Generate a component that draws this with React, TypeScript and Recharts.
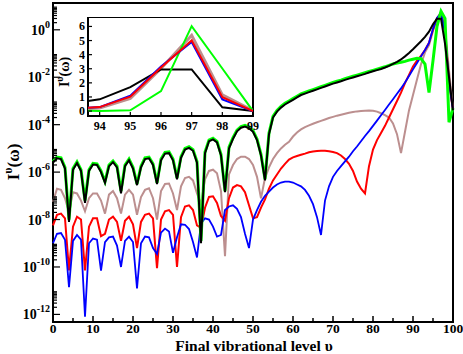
import { LineChart, Line, XAxis, YAxis, ReferenceArea } from "recharts";

// log10 of I^v(omega) for final vibrational level v = 0..100
const blackLog = [
  -5.6, -5.42, -5.45, -5.85, -8.1, -5.9, -5.62, -5.95, -7.3, -5.95,
  -5.68, -5.7, -6.0, -6.45, -5.75, -5.58, -5.8, -6.9, -5.75, -5.5,
  -5.85, -6.55, -5.8, -5.45, -5.42, -5.7, -6.5, -5.5, -5.22, -5.2,
  -5.5, -6.3, -5.4, -5.05, -4.98, -5.1, -5.6, -9.0, -5.2, -4.7,
  -4.62, -4.75, -5.3, -6.85, -5.0, -4.6, -4.28, -4.13, -4.08, -4.15,
  -4.3, -4.65, -5.3, -6.35, -4.4, -3.7, -3.45, -3.28, -3.15, -3.05,
  -2.95, -2.85, -2.75, -2.69, -2.63, -2.57, -2.51, -2.45, -2.39, -2.33,
  -2.27, -2.22, -2.17, -2.11, -2.06, -2.01, -1.96, -1.91, -1.86, -1.8,
  -1.75, -1.7, -1.65, -1.59, -1.52, -1.44, -1.35, -1.25, -1.12, -0.98,
  -0.82, -0.65, -0.48, -0.3, -0.08, 0.23, 0.47, 0.47, -0.58, -2.0,
  -3.4,
];

const greenLog = [
  -5.55, -5.37, -5.4, -5.8, -8.0, -5.85, -5.57, -5.9, -7.2, -5.9,
  -5.63, -5.65, -5.95, -6.4, -5.7, -5.53, -5.75, -6.8, -5.7, -5.45,
  -5.8, -6.5, -5.75, -5.4, -5.37, -5.65, -6.45, -5.45, -5.17, -5.15,
  -5.45, -6.25, -5.35, -5.0, -4.93, -5.05, -5.55, -8.9, -5.15, -4.65,
  -4.57, -4.7, -5.25, -6.8, -4.95, -4.55, -4.23, -4.08, -4.03, -4.1,
  -4.25, -4.6, -5.25, -6.3, -4.35, -3.65, -3.4, -3.23, -3.1, -3.0,
  -2.9, -2.8, -2.7, -2.64, -2.58, -2.52, -2.46, -2.4, -2.34, -2.28,
  -2.22, -2.17, -2.12, -2.06, -2.01, -1.96, -1.91, -1.86, -1.81, -1.76,
  -1.71, -1.66, -1.61, -1.56, -1.5, -1.44, -1.4, -1.37, -1.33, -1.28,
  -1.24, -1.2, -1.22, -1.45, -2.65, -1.3, 0.15, 0.78, 0.48, -3.9,
  -3.3,
];

const brownLog = [
  -7.25, -6.7, -6.75, -7.1, -7.7, -6.85, -6.9, -7.2, -7.65, -7.1,
  -6.9, -6.9, -7.2, -7.75, -6.95, -6.8, -7.1, -7.75, -6.95, -6.75,
  -6.95, -7.8, -7.05, -6.75, -6.68, -7.1, -8.0, -6.8, -6.5, -6.48,
  -6.9, -7.6, -6.6, -6.25, -6.2, -6.35, -6.9, -7.35, -6.3, -5.95,
  -5.9, -6.05, -6.8, -9.55, -6.1, -5.7, -5.45, -5.35, -5.35, -5.45,
  -5.7, -6.2, -7.1, -6.25, -5.8, -5.45, -5.2, -5.0, -4.85, -4.72,
  -4.5, -4.33, -4.2, -4.1, -4.03, -3.96, -3.9, -3.84, -3.78, -3.72,
  -3.67, -3.62, -3.58, -3.54, -3.5, -3.47, -3.44, -3.42, -3.41, -3.4,
  -3.41, -3.45, -3.52, -3.6, -3.7, -3.95, -4.4, -5.2, -4.3, -3.4,
  -2.75, -2.1, -1.45, -0.95, -0.65, -0.05, 0.48, 0.73, 0.06, -1.7,
  -3.4,
];

const redLog = [
  -8.25, -7.8, -7.75, -7.95, -10.15, -8.3, -7.88, -8.0, -10.15, -8.3,
  -7.95, -7.95, -8.7, -8.6, -8.0, -7.88, -8.1, -8.9, -8.05, -7.88,
  -8.2, -9.2, -8.1, -7.8, -7.75, -7.95, -10.05, -8.0, -7.65, -7.6,
  -7.8, -10.0, -7.9, -7.45, -7.4, -7.6, -8.25, -8.35, -7.5, -7.05,
  -7.02, -7.3, -7.85, -8.05, -7.1, -6.65, -6.55, -6.6, -6.85, -7.4,
  -7.95, -7.9, -7.5, -7.15, -6.7, -6.35, -6.1, -5.85, -5.65, -5.47,
  -5.38, -5.32, -5.27, -5.22, -5.16, -5.13, -5.11, -5.1, -5.1, -5.12,
  -5.15, -5.2, -5.3, -5.45, -5.65, -5.95, -6.4, -6.7, -6.9, -5.75,
  -5.05, -4.65, -4.35, -4.05, -3.7, -3.35, -3.0, -2.65, -2.25, -1.9,
  -1.55, -1.3, -1.1, -0.85, -0.55, 0.01, 0.49, 0.7, -0.01, -2.2,
  -3.4,
];

const blueLog = [
  -9.0, -8.6, -8.57, -8.85, -10.85, -8.9, -8.65, -8.85, -12.1, -9.0,
  -8.8, -8.85, -10.15, -8.95, -8.75, -8.72, -9.1, -10.0, -8.9, -8.72,
  -8.95, -10.9, -9.0, -8.72, -8.75, -9.2, -9.45, -8.55, -8.38, -8.5,
  -9.4, -8.75, -8.2, -8.22, -8.4, -8.95, -9.6, -8.15, -7.95, -8.0,
  -8.3, -8.72, -8.65, -7.6, -7.45, -7.4, -7.55, -7.9, -8.6, -9.2,
  -8.0, -7.6, -7.25, -7.0, -6.82, -6.65, -6.52, -6.44, -6.4, -6.4,
  -6.44, -6.52, -6.6, -6.75, -7.0, -7.35, -7.9, -8.65, -7.2, -6.6,
  -6.2, -5.95, -5.75, -5.55, -5.35, -5.12, -4.92, -4.7, -4.48, -4.27,
  -4.05, -3.83, -3.6, -3.38, -3.15, -2.93, -2.7, -2.47, -2.22, -1.95,
  -1.67, -1.4, -1.12, -0.85, -0.55, 0.04, 0.5, 0.69, -0.08, -2.2,
  -3.4,
];

const xTicks = [0, 5, 10, 15, 20, 25, 30, 35, 40, 45, 50, 55, 60, 65, 70, 75, 80, 85, 90, 95, 100];
const yMajors = [-12, -10, -8, -6, -4, -2, 0];
const insetXTicks = [94, 95, 96, 97, 98, 99];
const insetYTicks = [0, 1, 2, 3, 4, 5, 6];

const SERIF = '"Liberation Serif", "Times New Roman", serif';
const Y_MIN = -12.32;
const Y_MAX = 1.13;

// labelled decades every two powers of ten, minor ticks 2..9 x major above each
const yTicks: number[] = [];
yMajors.forEach((d) => {
  yTicks.push(d);
  for (let k = 2; k <= 9; k++) yTicks.push(d + Math.log10(k));
});

const rows = blackLog.map((_, v) => ({
  v,
  black: blackLog[v],
  green: greenLog[v],
  brown: brownLog[v],
  red: redLog[v],
  blue: blueLog[v],
}));

// the inset shows the same intensities on a linear scale near the peak
const insetRows = rows
  .filter((r) => r.v >= 93 && r.v <= 99)
  .map((r) => ({
    v: r.v,
    black: 10 ** r.black,
    green: 10 ** r.green,
    brown: 10 ** r.brown,
    red: 10 ** r.red,
    blue: 10 ** r.blue,
  }));

const isInt = (n: number) => Math.abs(n - Math.round(n)) < 1e-6;

const BottomTick = ({ x, y, payload }: any) => {
  const major = payload.value % 10 === 0;
  return (
    <g>
      <line x1={x} x2={x} y1={y} y2={y - (major ? 6 : 4)} stroke="#000" strokeWidth={1.5} />
      {major && (
        <text x={x} y={y + 11} textAnchor="middle" fontFamily={SERIF} fontWeight="bold" fontSize={13.5} fill="#000">
          {payload.value}
        </text>
      )}
    </g>
  );
};

const TopTick = ({ x, y, payload }: any) => {
  const major = payload.value % 10 === 0;
  return <line x1={x} x2={x} y1={y} y2={y + (major ? 6 : 4)} stroke="#000" strokeWidth={1.5} />;
};

const LeftTick = ({ x, y, payload }: any) => {
  const v = payload.value;
  const major = isInt(v);
  return (
    <g>
      <line x1={x} x2={x + (major ? 7 : 4)} y1={y} y2={y} stroke="#000" strokeWidth={1.2} />
      {major && (
        <text x={x - 3} y={y + 5} textAnchor="end" fontFamily={SERIF} fontWeight="bold" fontSize={14} fill="#000">
          10
          <tspan dy={-7} fontSize={10}>
            {Math.round(v) === 0 ? "0" : Math.round(v)}
          </tspan>
        </text>
      )}
    </g>
  );
};

const RightTick = ({ x, y, payload }: any) => {
  const major = isInt(payload.value);
  return <line x1={x} x2={x - (major ? 7 : 4)} y1={y} y2={y} stroke="#000" strokeWidth={1.2} />;
};

const InsetBottomTick = ({ x, y, payload }: any) => (
  <g>
    <line x1={x} x2={x} y1={y} y2={y - 4} stroke="#000" strokeWidth={1.2} />
    <text x={x} y={y + 14} textAnchor="middle" fontFamily={SERIF} fontWeight="bold" fontSize={12} fill="#000">
      {payload.value}
    </text>
  </g>
);

const InsetLeftTick = ({ x, y, payload }: any) => (
  <g>
    <line x1={x} x2={x + 4} y1={y} y2={y} stroke="#000" strokeWidth={1.2} />
    <text x={x - 3} y={y + 4} textAnchor="end" fontFamily={SERIF} fontWeight="bold" fontSize={12} fill="#000">
      {payload.value}
    </text>
  </g>
);

export default function App() {
  return (
    <div style={{ position: "relative", width: 463, height: 354, background: "#fff" }}>
      <style>{"body{margin:0}"}</style>
      <LineChart width={463} height={354} data={rows} margin={{ top: 3, right: 10, bottom: 0, left: 0 }}>
        <XAxis xAxisId="b" dataKey="v" type="number" domain={[0, 100]} ticks={xTicks} interval={0}
          height={32} tickSize={0} tickMargin={0} axisLine={false} tick={BottomTick} />
        <XAxis xAxisId="t" orientation="top" dataKey="v" type="number" domain={[0, 100]} ticks={xTicks}
          interval={0} height={0} tickSize={0} tickMargin={0} axisLine={false} tick={TopTick} />
        <YAxis yAxisId="l" type="number" domain={[Y_MIN, Y_MAX]} ticks={yTicks} interval={0} allowDataOverflow
          width={53} tickSize={0} tickMargin={0} axisLine={false} tick={LeftTick} />
        <YAxis yAxisId="r" orientation="right" type="number" domain={[Y_MIN, Y_MAX]} ticks={yTicks} interval={0}
          allowDataOverflow width={0} tickSize={0} tickMargin={0} axisLine={false} tick={RightTick} />
        <ReferenceArea xAxisId="b" yAxisId="l" x1={0} x2={100} y1={Y_MIN} y2={Y_MAX}
          fill="none" stroke="#000" strokeWidth={2} />
        <Line xAxisId="b" yAxisId="l" dataKey="brown" stroke="#bc8f8f" strokeWidth={2} dot={false} isAnimationActive={false} />
        <Line xAxisId="b" yAxisId="l" dataKey="red" stroke="#ff0000" strokeWidth={2} dot={false} isAnimationActive={false} />
        <Line xAxisId="b" yAxisId="l" dataKey="blue" stroke="#0000ff" strokeWidth={1.8} dot={false} isAnimationActive={false} />
        <Line xAxisId="b" yAxisId="l" dataKey="green" stroke="#00ff00" strokeWidth={3} dot={false} isAnimationActive={false} />
        <Line xAxisId="b" yAxisId="l" dataKey="black" stroke="#000000" strokeWidth={2} dot={false} isAnimationActive={false} />
      </LineChart>

      {/* inset: linear scale around the peak */}
      <div style={{ position: "absolute", left: 88, top: 17, width: 165, height: 99, background: "#fff" }} />
      <div style={{ position: "absolute", left: 52, top: 17 }}>
        <LineChart width={210} height={119} data={insetRows} margin={{ top: 0, right: 9, bottom: 0, left: 0 }}>
          <XAxis dataKey="v" type="number" domain={[93.62, 99]} ticks={insetXTicks} interval={0} allowDataOverflow
            height={20} tickSize={0} tickMargin={0} axisLine={false} tick={InsetBottomTick} />
          <YAxis type="number" domain={[-0.35, 6.67]} ticks={insetYTicks} interval={0} allowDataOverflow
            width={36} tickSize={0} tickMargin={0} axisLine={false} tick={InsetLeftTick} />
          <ReferenceArea x1={93.62} x2={99} y1={-0.35} y2={6.67} fill="none" stroke="#000" strokeWidth={2} />
          <Line dataKey="brown" stroke="#bc8f8f" strokeWidth={3} dot={false} isAnimationActive={false} />
          <Line dataKey="black" stroke="#000000" strokeWidth={2} dot={false} isAnimationActive={false} />
          <Line dataKey="green" stroke="#00ff00" strokeWidth={2} dot={false} isAnimationActive={false} />
          <Line dataKey="blue" stroke="#0000ff" strokeWidth={2} dot={false} isAnimationActive={false} />
          <Line dataKey="red" stroke="#ff0000" strokeWidth={2} dot={false} isAnimationActive={false} />
        </LineChart>
      </div>

      <svg width={463} height={354} style={{ position: "absolute", left: 0, top: 0, pointerEvents: "none" }}>
        <text x={254} y={351} textAnchor="middle" fontFamily={SERIF} fontWeight="bold" fontSize={15.5} fill="#000">
          Final vibrational level  υ
        </text>
        <text transform="translate(19,162) rotate(-90)" textAnchor="middle" fontFamily={SERIF} fontWeight="bold" fontSize={17} fill="#000">
          I<tspan dy={-7} fontSize={12}>υ</tspan>
          <tspan dy={7}>(ω)</tspan>
        </text>
        <text transform="translate(69,72) rotate(-90)" textAnchor="middle" fontFamily={SERIF} fontWeight="bold" fontSize={14} fill="#000">
          I<tspan dy={-6} fontSize={10}>υ</tspan>
          <tspan dy={6}>(ω)</tspan>
        </text>
      </svg>
    </div>
  );
}
